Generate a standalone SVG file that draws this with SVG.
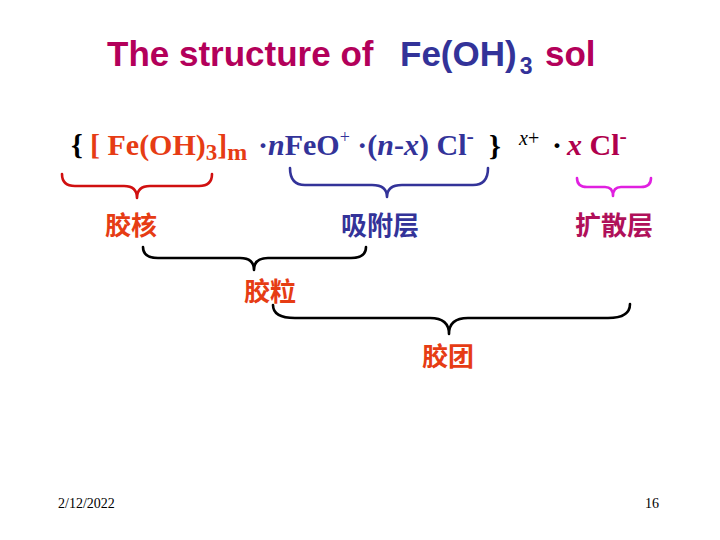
<svg xmlns="http://www.w3.org/2000/svg" width="720" height="540" viewBox="0 0 720 540">
<style>
.title{font-family:"Liberation Sans",Arial,sans-serif;font-weight:bold;font-size:35px}
.f{font-family:"Liberation Serif","Times New Roman",serif;font-weight:bold;font-size:30px}
.lab{font-family:"Noto Sans CJK SC","Noto Sans",sans-serif;font-weight:bold;font-size:26px;text-anchor:middle}
.foot{font-family:"Liberation Serif","Times New Roman",serif;font-size:14px}
.br{fill:none;stroke-width:2.6;stroke-linecap:round;stroke-linejoin:round}
</style>
<rect width="720" height="540" fill="#ffffff"/>
<g id="title">
<text class="title" x="107" y="66" fill="#B3005A">The structure of</text>
<text class="title" x="400" y="66" fill="#333399">Fe(OH)<tspan font-size="23" dy="8" dx="3">3</tspan></text>
<text class="title" x="545" y="66" fill="#B3005A">sol</text>
</g>
<g id="formula">
<text class="f" x="71" y="155" font-size="32" fill="#000">{</text>
<text class="f" x="90" y="155" fill="#E63C14">[ Fe(OH)<tspan font-size="23" dy="5">3</tspan><tspan dy="-5">]</tspan><tspan font-size="24" dy="5">m</tspan></text>
<text class="f" x="258" y="155" fill="#333399">·<tspan font-style="italic">n</tspan>FeO<tspan font-size="18" font-weight="normal" dy="-12">+</tspan><tspan dy="12"> ·(</tspan><tspan font-style="italic">n</tspan>-<tspan font-style="italic">x</tspan>) Cl<tspan font-size="22" dy="-12">-</tspan></text>
<text class="f" x="489" y="156" font-size="33" fill="#000">}</text>
<text x="519" y="145" font-family="'Liberation Serif','Times New Roman',serif" font-size="20" fill="#000"><tspan font-style="italic">x</tspan>+</text>
<text class="f" x="552" y="155" fill="#000">·</text>
<text class="f" x="567" y="155" fill="#B0004C"><tspan font-style="italic">x</tspan> Cl<tspan font-size="22" dy="-12">-</tspan></text>
</g>
<g id="connectors">
<path class="br" stroke="#D01010" d="M62,174 Q62,186 75,186 L124,186 Q137,186 137,198 Q137,186 150,186 L199,186 Q212,186 212,174"/>
<path class="br" stroke="#333399" d="M290,168 Q290,185 305,185 L372,185 Q387,185 387,197 Q387,185 402,185 L473,185 Q488,185 488,168"/>
<path class="br" stroke="#E020E0" d="M577,178 Q577,187 587,187 L605,187 Q613,187 613,196 Q613,187 621,187 L641,187 Q651,187 651,178"/>
<path class="br" stroke="#000" d="M143,247 Q143,258 158,258 L240,258 Q254,258 254,270 Q254,258 268,258 L351,258 Q366,258 366,247"/>
<path class="br" stroke="#000" d="M273,305 Q273,318 295,318 L430,318 Q449,318 449,334 Q449,318 468,318 L608,318 Q630,318 630,304"/>
</g>
<g id="core"><text class="lab" x="131" y="235" fill="#E63C14">胶核</text></g>
<g id="adsorption"><text class="lab" x="380" y="235" fill="#333399">吸附层</text></g>
<g id="diffuse"><text class="lab" x="614" y="235" fill="#B0105A">扩散层</text></g>
<g id="particle"><text class="lab" x="270" y="301" fill="#E63C14">胶粒</text></g>
<g id="micelle"><text class="lab" x="448" y="366" fill="#E63C14">胶团</text></g>
<g id="footer">
<text class="foot" x="58" y="508" fill="#000">2/12/2022</text>
<text class="foot" x="645" y="508" fill="#000">16</text>
</g>
</svg>
